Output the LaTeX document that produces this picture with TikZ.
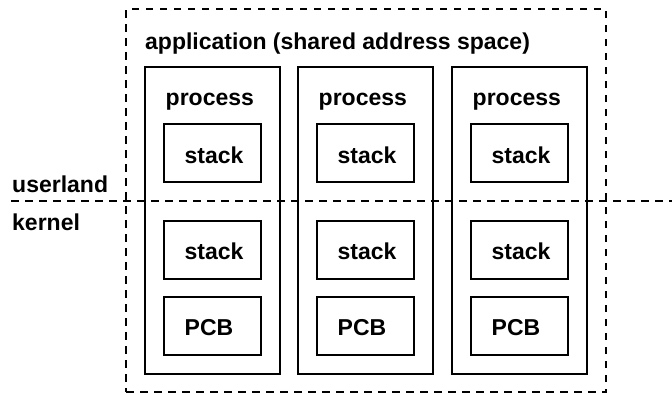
\documentclass[tikz,border=0pt]{standalone}
\usepackage{fontspec}
\setmainfont{Liberation Sans}
\begin{document}
\begin{tikzpicture}[x=1pt,y=-1pt,
  box/.style={draw, line width=1.6pt, inner sep=0pt, outer sep=0pt, anchor=north west},
  dashbox/.style={draw, line width=1.6pt, dash pattern=on 7.5pt off 6.5pt, inner sep=0pt, outer sep=0pt, anchor=north west},
  txt/.style={inner sep=0pt, anchor=base west, font=\fontsize{23}{27}\selectfont\bfseries}]
\useasboundingbox (0,0) rectangle (672,394);
% outer application box
\node[dashbox, minimum width=480pt, minimum height=383pt] (app) at (126,9) {};
\node[txt] (apptxt) at ([xshift=19pt,yshift=-40pt]app.north west) {application (shared address space)};
% userland / kernel divider
\coordinate (dl) at (11,201);
\coordinate (dr) at (672,201);
\draw[line width=1.6pt, dash pattern=on 7.5pt off 6.5pt] (dl) -- (dr);
\node[txt] (user) at (12,192.5) {userland};
\node[txt] (kern) at (12,230) {kernel};
% processes
\foreach \i/\px/\sx in {1/145/164, 2/298/317, 3/452/471} {
  \node[box, minimum width=135pt, minimum height=307pt] (p\i) at (\px,67) {};
  \node[txt] (p\i t) at ([xshift=20.5pt,yshift=-38pt]p\i.north west) {process};
  \node[box, minimum width=97pt, minimum height=58pt] (su\i) at (\sx,124) {};
  \node[txt] (su\i t) at ([xshift=20.5pt,yshift=-39pt]su\i.north west) {stack};
  \node[box, minimum width=97pt, minimum height=58pt] (sk\i) at (\sx,220.7) {};
  \node[txt] (sk\i t) at ([xshift=20.5pt,yshift=-38.5pt]sk\i.north west) {stack};
  \node[box, minimum width=97pt, minimum height=58pt] (pcb\i) at (\sx,297) {};
  \node[txt] (pcb\i t) at ([xshift=20.5pt,yshift=-38.7pt]pcb\i.north west) {PCB};
}
\end{tikzpicture}
\end{document}
